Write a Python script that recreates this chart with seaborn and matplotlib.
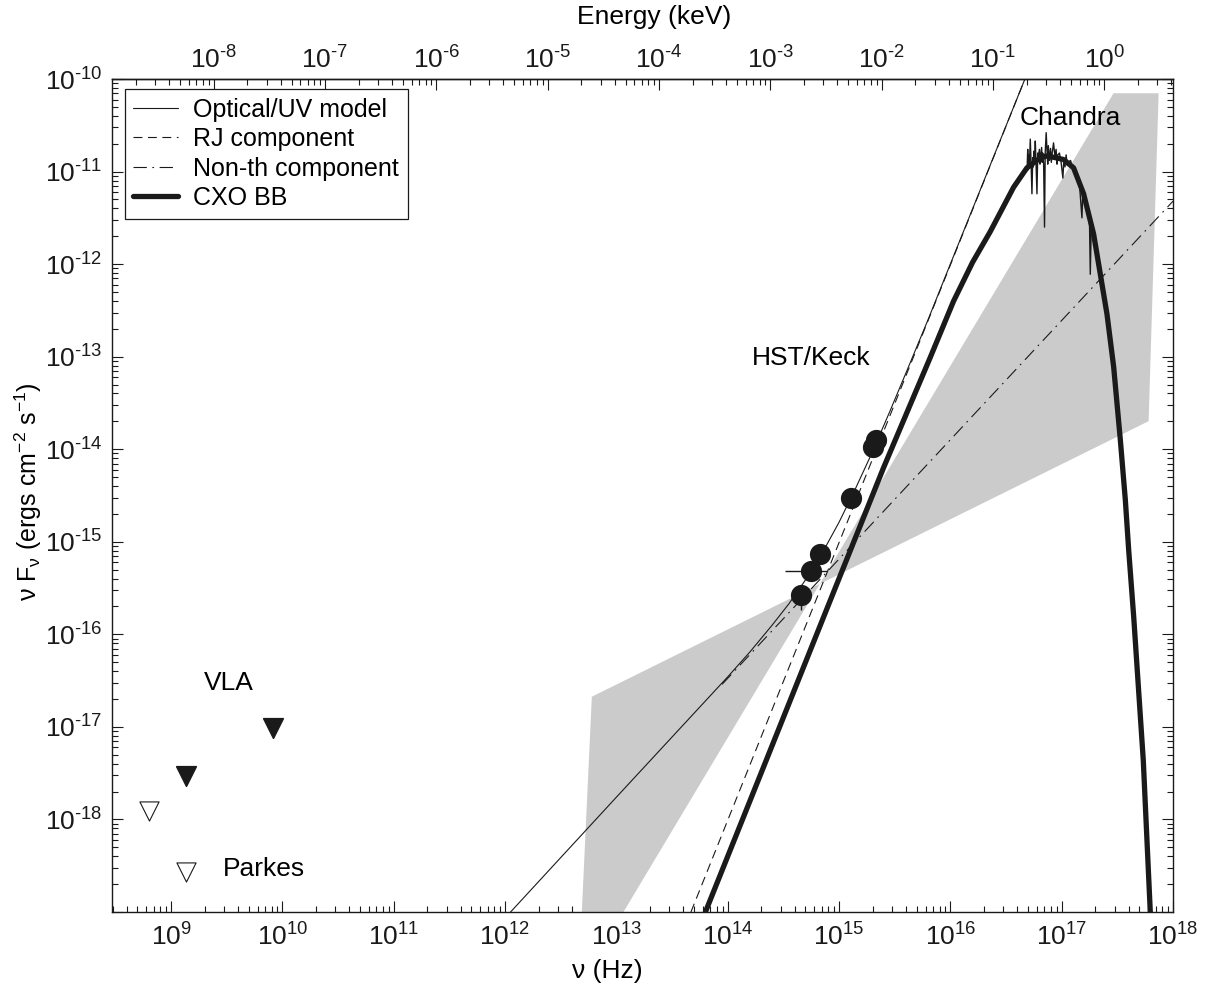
import numpy as np
import pandas as pd
import matplotlib
matplotlib.use("Agg")
import matplotlib.pyplot as plt
import seaborn as sns
from matplotlib.ticker import LogLocator, NullFormatter
from matplotlib.lines import Line2D

# ---------------- data (log10 values) ----------------
# Optical/UV model (thin solid)
model_lognu = [12.05, 13.0, 14.0, 14.2, 14.4, 14.55, 14.7, 14.85, 15.0, 15.15, 15.3,
               15.45, 15.6, 15.8, 16.0, 16.70]
model_logflux = [-19.0, -17.76, -16.46, -16.19, -15.90, -15.67, -15.41, -15.12, -14.79,
                 -14.42, -14.03, -13.61, -13.18, -12.60, -12.00, -9.91]
# RJ component (dashed)
rj_lognu = [13.67, 16.70]
rj_logflux = [-19.0, -9.91]
# Non-thermal component (dash-dot)
nonth_lognu = [13.95, 18.0]
nonth_logflux = [-16.54, -11.32]
# CXO blackbody (thick)
bb_lognu = [13.80, 14.30, 14.906, 15.40, 15.819, 16.029, 16.20, 16.358, 16.568, 16.688,
            16.80, 16.868, 17.017, 17.107, 17.197, 17.287, 17.347, 17.407, 17.467,
            17.527, 17.572, 17.602, 17.647, 17.733, 17.796]
bb_logflux = [-19.0, -17.50, -15.68, -14.20, -13.01, -12.40, -11.98, -11.65, -11.17, -10.96,
              -10.86, -10.83, -10.87, -10.96, -11.24, -11.675, -12.107, -12.54, -13.11,
              -13.90, -14.55, -15.09, -15.81, -17.36, -19.0]
# Chandra spectrum (noisy, thin)
chandra_lognu = [16.69, 16.695, 16.70, 16.705, 16.71, 16.718, 16.725, 16.733, 16.74, 16.745,
                 16.75, 16.757, 16.763, 16.77, 16.778, 16.785, 16.79, 16.80, 16.805, 16.81,
                 16.82, 16.825, 16.83, 16.838, 16.846, 16.852, 16.861, 16.87, 16.875, 16.88,
                 16.89, 16.90, 16.907, 16.915, 16.927, 16.94, 16.95, 16.958, 16.965, 16.98,
                 16.995, 17.011, 17.02, 17.03, 17.04, 17.05, 17.06, 17.08, 17.10, 17.12,
                 17.14, 17.16, 17.182, 17.19, 17.21, 17.23, 17.25, 17.257, 17.265, 17.28]
chandra_logflux = [-10.96, -10.76, -10.98, -10.82, -10.95, -10.65, -10.90, -11.24, -10.85, -10.95,
                   -10.78, -10.90, -10.67, -10.92, -11.24, -10.80, -10.85, -10.76, -10.92, -10.84,
                   -10.74, -10.90, -10.80, -10.92, -11.60, -10.80, -10.58, -10.82, -10.92, -10.72,
                   -10.88, -10.75, -10.90, -10.80, -10.69, -10.84, -10.76, -10.92, -10.82, -10.80,
                   -10.90, -11.07, -10.86, -10.95, -10.82, -10.93, -10.90, -10.88, -10.98, -11.02,
                   -11.10, -11.14, -11.50, -11.22, -11.30, -11.42, -11.55, -12.11, -11.62, -11.70]
# Gray bow-tie (power-law uncertainty region)
bowtie_lognu = [12.69, 12.78, 14.828, 17.781, 17.871, 17.466, 14.828, 13.064]
bowtie_logflux = [-19.0, -16.674, -15.455, -13.697, -10.154, -10.154, -15.455, -19.0]
# HST/Keck photometry
hst_lognu = [14.658, 14.750, 14.831, 15.107, 15.305, 15.334]
hst_logflux = [-15.570, -15.318, -15.135, -14.523, -13.977, -13.898]
hst_xerr_lo = [0.0, 0.233, 0.0, 0.0, 0.0, 0.0]
hst_xerr_hi = [0.0, 0.141, 0.0, 0.0, 0.0, 0.0]
hst_yerr_lo = [0.17, 0.0, 0.0, 0.0, 0.0, 0.0]
# VLA upper limits (filled) and Parkes upper limits (open)
vla_lognu = [9.135, 9.919]
vla_logflux = [-17.53, -17.015]
parkes_lognu = [8.802, 9.132]
parkes_logflux = [-17.907, -18.573]

x_tick_exp = list(range(9, 19))
y_tick_exp = list(range(-19, -9))
e_tick_exp = list(range(-8, 1))
KEV_HZ = 2.418e17

# ---------------- style ----------------
sns.set_theme(style="ticks")
plt.rcParams["font.family"] = ["Liberation Sans", "DejaVu Sans"]
plt.rcParams["mathtext.fontset"] = "custom"
plt.rcParams["mathtext.rm"] = "Liberation Sans"
plt.rcParams["mathtext.it"] = "Liberation Sans:italic"
plt.rcParams["mathtext.default"] = "rm"
for k in ["text.color", "axes.labelcolor", "xtick.color", "ytick.color", "axes.edgecolor"]:
    plt.rcParams[k] = "black"

fig = plt.figure(figsize=(12.17, 9.96), dpi=100)
ax = fig.add_axes([112 / 1217, 84 / 996, 1061 / 1217, 833 / 996])

def p(a):
    return 10.0 ** np.asarray(a, dtype=float)

def explabel(e):
    if e < 0:
        return r"$10^{\text{-}%d}$" % (-e)
    return r"$10^{%d}$" % e

# gray bowtie
ax.fill(p(bowtie_lognu), p(bowtie_logflux), color="#cbcbcb", lw=0, zorder=1)

# lines
sns.lineplot(x=p(model_lognu), y=p(model_logflux), ax=ax, color="k", lw=0.8,
             sort=False, estimator=None, zorder=3)
sns.lineplot(x=p(rj_lognu), y=p(rj_logflux), ax=ax, color="k", lw=0.8,
             linestyle=(0, (8, 5)), sort=False, estimator=None, zorder=3)
sns.lineplot(x=p(nonth_lognu), y=p(nonth_logflux), ax=ax, color="k", lw=0.8,
             linestyle=(0, (12, 5, 1.5, 5)), sort=False, estimator=None, zorder=3)
sns.lineplot(x=p(bb_lognu), y=p(bb_logflux), ax=ax, color="k", lw=3.8,
             sort=False, estimator=None, zorder=4)
sns.lineplot(x=p(chandra_lognu), y=p(chandra_logflux), ax=ax, color="k", lw=1.0,
             sort=False, estimator=None, zorder=4)

# HST/Keck points
hx = p(hst_lognu); hy = p(hst_logflux)
xerr = np.array([hx - p(np.array(hst_lognu) - np.array(hst_xerr_lo)),
                 p(np.array(hst_lognu) + np.array(hst_xerr_hi)) - hx])
yerr = np.array([hy - p(np.array(hst_logflux) - np.array(hst_yerr_lo)), np.zeros(len(hy))])
ax.errorbar(hx, hy, xerr=xerr, yerr=yerr, fmt="none", ecolor="k", elinewidth=1.0, zorder=5)
sns.scatterplot(x=hx, y=hy, ax=ax, color="k", s=200, marker="o", edgecolor="k", zorder=6)

# radio limits
sns.scatterplot(x=p(vla_lognu), y=p(vla_logflux), ax=ax, color="k", s=200, marker="v",
                edgecolor="k", zorder=6)
sns.scatterplot(x=p(parkes_lognu), y=p(parkes_logflux), ax=ax, facecolor="white", s=190,
                marker="v", edgecolor="k", linewidth=0.8, zorder=6)

# annotations
ax.text(p(9.521), p(-16.526), "VLA", fontsize=19, ha="center", va="center")
ax.text(p(9.467), p(-18.533), "Parkes", fontsize=19, ha="left", va="center")
ax.text(p(14.75), p(-13.01), "HST/Keck", fontsize=19, ha="center", va="center")
ax.text(p(17.077), p(-10.42), "Chandra", fontsize=19, ha="center", va="center")

# axes
ax.set_xscale("log")
ax.set_yscale("log")
ax.set_xlim(p(8.47), p(18.0))
ax.set_ylim(p(-19.0), p(-10.0))

ax.set_xticks(p(x_tick_exp))
ax.set_xticklabels([explabel(e) for e in x_tick_exp])
ax.set_yticks(p(y_tick_exp))
ax.set_yticklabels(["" if e == -19 else explabel(e) for e in y_tick_exp])
ax.xaxis.set_minor_locator(LogLocator(base=10, subs=np.arange(2, 10), numticks=40))
ax.yaxis.set_minor_locator(LogLocator(base=10, subs=np.arange(2, 10), numticks=40))
ax.xaxis.set_minor_formatter(NullFormatter())
ax.yaxis.set_minor_formatter(NullFormatter())
ax.tick_params(which="both", direction="in", colors="k", labelsize=19, width=0.8,
               left=True, right=True, bottom=True, top=False)
ax.tick_params(which="major", length=8)
ax.tick_params(which="minor", length=4.5)
ax.tick_params(axis="x", pad=8)
ax.tick_params(axis="y", pad=7)
for s in ax.spines.values():
    s.set_color("k")
    s.set_linewidth(1.0)

secax = ax.secondary_xaxis("top", functions=(lambda x: x / KEV_HZ, lambda e: e * KEV_HZ))
secax.set_xticks(p(e_tick_exp))
secax.set_xticklabels([explabel(e) for e in e_tick_exp])
secax.xaxis.set_minor_locator(LogLocator(base=10, subs=np.arange(2, 10), numticks=40))
secax.xaxis.set_minor_formatter(NullFormatter())
secax.tick_params(which="both", direction="in", colors="k", labelsize=19, width=0.8, pad=4)
secax.tick_params(which="major", length=8)
secax.tick_params(which="minor", length=4.5)
secax.spines["top"].set_linewidth(1.0)

fig.text(654 / 1217, 1 - 17 / 996, "Energy (keV)", fontsize=19, ha="center", va="center")

ax.set_xlabel("ν (Hz)", fontsize=19)
ax.xaxis.set_label_coords(0.467, -0.057)
ax.set_ylabel("ν F$_{ν}$ (ergs cm$^{-2}$ s$^{-1}$)", fontsize=18)
ax.yaxis.set_label_coords(-0.064, 0.505)

handles = [
    Line2D([], [], color="k", lw=0.8),
    Line2D([], [], color="k", lw=0.8, linestyle=(0, (8, 5))),
    Line2D([], [], color="k", lw=0.8, linestyle=(0, (12, 5, 1.5, 5))),
    Line2D([], [], color="k", lw=3.8),
]
labels = ["Optical/UV model", "RJ component", "Non-th component", "CXO BB"]
leg = ax.legend(handles, labels, loc="upper left", bbox_to_anchor=(0.012, 0.988),
                borderaxespad=0, fontsize=18, frameon=True, fancybox=False,
                edgecolor="k", framealpha=1, handlelength=1.8, handletextpad=0.6,
                labelspacing=0.22, borderpad=0.35)
leg.get_frame().set_linewidth(0.9)

fig.savefig("out.png", dpi=100)
